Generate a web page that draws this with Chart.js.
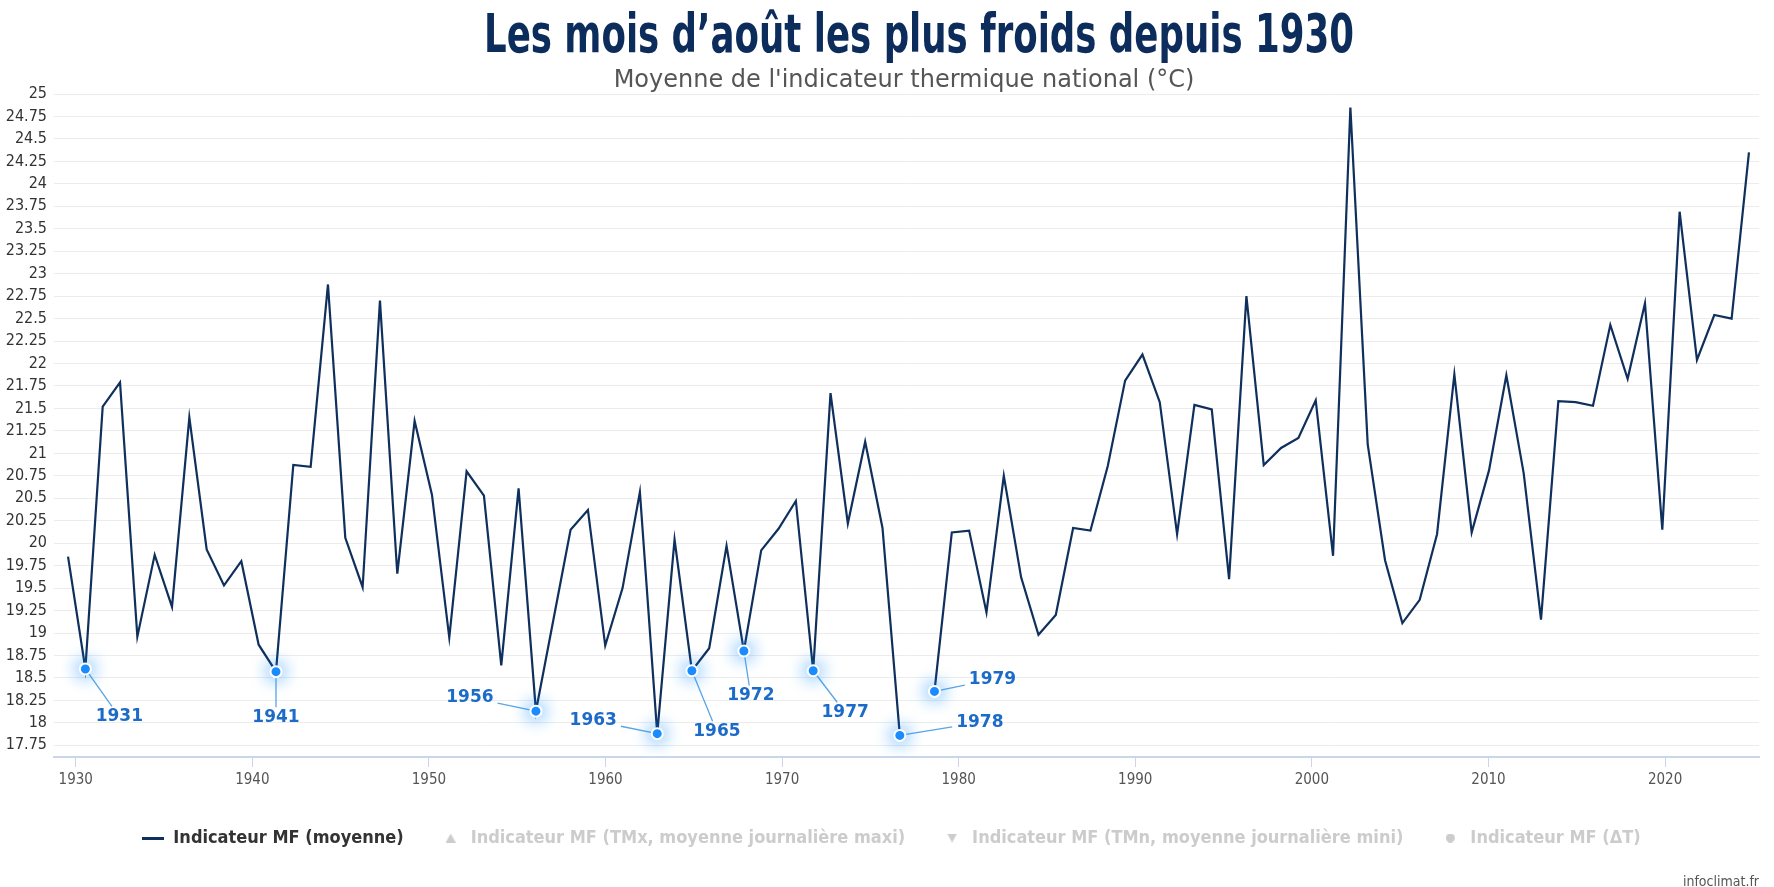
<!DOCTYPE html>
<html lang="fr">
<head>
<meta charset="utf-8">
<title>Les mois d’août les plus froids depuis 1930</title>
<script src="https://cdn.jsdelivr.net/npm/chart.js@4.4.1/dist/chart.umd.min.js"></script>
<style>
  html, body { margin: 0; padding: 0; background: #fff; }
  #wrap { width: 1774px; height: 887px; position: relative; }
</style>
</head>
<body>
<div id="wrap"><canvas id="chart"></canvas></div>
<script>
const TITLE = 'Les mois d’août les plus froids depuis 1930';
const SUBTITLE = "Moyenne de l'indicateur thermique national (°C)";
const CREDIT = 'infoclimat.fr';

// August mean of the national thermal indicator (°C), one value per point in
// plotting order from 1930 on. null = no value, the line breaks there.
const augustMean = [
  19.85, 18.60, 21.52, 21.79, 18.96, 19.87, 19.29, 21.40, 19.93, 19.53,
  19.80, 18.87, 18.57, 20.87, 20.85, 22.88, 20.06, 19.51, 22.70, 19.66,
  21.36, 20.54, 18.95, 20.80, 20.53, 18.64, 20.61, 18.13, 19.14, 20.15,
  20.37, 18.86, 19.50, 20.57, 17.88, 20.04, 18.58, 18.83, 19.97, 18.80,
  19.92, 20.16, 20.47, 18.58, 21.67, 20.22, 21.13, 20.17, 17.86, null,
  18.35, 20.12, 20.14, 19.23, 20.75, 19.62, 18.98, 19.20, 20.17, 20.14,
  20.86, 21.81, 22.10, 21.57, 20.10, 21.54, 21.49, 19.60, 22.75, 20.87,
  21.06, 21.17, 21.59, 19.86, 24.85, 21.10, 19.81, 19.11, 19.37, 20.10,
  21.88, 20.12, 20.81, 21.87, 20.78, 19.15, 21.58, 21.57, 21.53, 22.43,
  21.83, 22.67, 20.15, 23.69, 22.04, 22.54, 22.50, 24.35,
];

// Coldest Augusts picked out on the chart: label and position in augustMean.
const coldLabels = ['1931', '1941', '1956', '1963', '1965', '1972', '1977', '1978', '1979'];
const coldPoints = [1, 12, 27, 34, 36, 39, 43, 48, 50];

const legendNames = [
  'Indicateur MF (moyenne)',
  'Indicateur MF (TMx, moyenne journalière maxi)',
  'Indicateur MF (TMn, moyenne journalière mini)',
  'Indicateur MF (ΔT)',
];

// axis ranges
const tempRange = { min: 17.62, max: 25, step: 0.25 };
const yearRange = { min: 1928.77, max: 2025.32, step: 10 };
const pointRange = { min: -0.81, max: 97.58 };

// where each cold-year label sits relative to its marker (px)
const labelOffsets = [
  [34, 48], [0, 46], [-66, -14], [-64, -13], [25, 61],
  [7, 45], [32, 42], [80, -13], [58, -12],
];

const NAVY = '#0f2f5c';
const GRID_COLOR = '#ececec';
const AXIS_COLOR = '#ccd6eb';
const HIDDEN_COLOR = '#cccccc';
const MARK_BLUE = '#1a8cff';
const LABEL_BLUE = '#1c6bc9';
const LEADER_BLUE = '#5aa5e6';
const COND = '"DejaVu Sans Condensed", "DejaVu Sans", sans-serif';

const MARKER_DS = 4;
const LEGEND_SHIFT = 12;

// small canvases used as legend symbols
function symbol(w, h, draw) {
  const c = document.createElement('canvas');
  c.width = w; c.height = h;
  draw(c.getContext('2d'), w, h);
  return c;
}
const legendSymbols = [
  symbol(22, 3, (g, w, h) => { g.fillStyle = NAVY; g.fillRect(0, 0, w, h); }),
  symbol(10, 9, (g, w, h) => {
    g.fillStyle = HIDDEN_COLOR; g.beginPath();
    g.moveTo(w / 2, 0); g.lineTo(w, h); g.lineTo(0, h); g.closePath(); g.fill();
  }),
  symbol(10, 9, (g, w, h) => {
    g.fillStyle = HIDDEN_COLOR; g.beginPath();
    g.moveTo(0, 0); g.lineTo(w, 0); g.lineTo(w / 2, h); g.closePath(); g.fill();
  }),
  symbol(9, 9, (g, w, h) => {
    g.fillStyle = HIDDEN_COLOR; g.beginPath();
    g.arc(w / 2, h / 2, w / 2, 0, Math.PI * 2); g.fill();
  }),
];

// the legend row sits a little right of the canvas centre in the original
const legendShift = {
  id: 'legendShift',
  afterLayout(chart) {
    if (!chart.legend) return;
    chart.legend.left += LEGEND_SHIFT;
    chart.legend.right += LEGEND_SHIFT;
  },
};

// soft blue halo round the cold-year markers
const markerGlow = {
  id: 'markerGlow',
  beforeDatasetDraw(chart, args) {
    if (args.index !== MARKER_DS) return;
    const ctx = chart.ctx;
    ctx.save();
    ctx.shadowColor = 'rgba(20, 140, 255, 1)';
    ctx.shadowBlur = 18;
  },
  afterDatasetDraw(chart, args) {
    if (args.index !== MARKER_DS) return;
    chart.ctx.restore();
  },
};

function labelBoxes(chart) {
  const ctx = chart.ctx;
  const meta = chart.getDatasetMeta(MARKER_DS);
  ctx.font = 'bold 17px "DejaVu Sans", sans-serif';
  return meta.data.map((pt, i) => {
    const [dx, dy] = labelOffsets[i];
    const w = ctx.measureText(coldLabels[i]).width;
    return { px: pt.x, py: pt.y, cx: pt.x + dx, cy: pt.y + dy, w, h: 13, text: coldLabels[i] };
  });
}

// leader lines go under the series, labels on top of everything
const coldAnnotations = {
  id: 'coldAnnotations',
  beforeDatasetsDraw(chart) {
    const ctx = chart.ctx;
    const boxes = labelBoxes(chart);
    ctx.save();
    ctx.strokeStyle = LEADER_BLUE;
    ctx.lineWidth = 1.3;
    boxes.forEach(b => {
      const vx = b.px - b.cx, vy = b.py - b.cy;
      const hw = b.w / 2 + 4, hh = b.h / 2 + 4;
      const s = Math.min(vx ? hw / Math.abs(vx) : Infinity, vy ? hh / Math.abs(vy) : Infinity);
      ctx.beginPath();
      ctx.moveTo(b.px, b.py);
      ctx.lineTo(b.cx + vx * s, b.cy + vy * s);
      ctx.stroke();
    });
    ctx.restore();
  },
  afterDatasetsDraw(chart) {
    const ctx = chart.ctx;
    const boxes = labelBoxes(chart);
    ctx.save();
    ctx.fillStyle = LABEL_BLUE;
    ctx.textAlign = 'center';
    ctx.textBaseline = 'middle';
    boxes.forEach(b => ctx.fillText(b.text, b.cx, b.cy));
    ctx.restore();
  },
};

// title, subtitle and source credit
const header = {
  id: 'header',
  beforeDraw(chart) {
    const ctx = chart.ctx;
    ctx.save();
    ctx.fillStyle = '#ffffff';
    ctx.fillRect(0, 0, chart.width, chart.height);
    ctx.restore();
  },
  afterDraw(chart) {
    const ctx = chart.ctx;
    ctx.save();
    ctx.font = 'bold 54px "Liberation Sans Narrow", "DejaVu Sans Condensed", sans-serif';
    ctx.fillStyle = '#0c2c5c';
    ctx.textAlign = 'center';
    ctx.textBaseline = 'alphabetic';
    const sx = Math.min(1, 870 / ctx.measureText(TITLE).width);
    ctx.translate(919, 52);
    ctx.scale(sx, 1);
    ctx.fillText(TITLE, 0, 0);
    ctx.restore();

    ctx.save();
    ctx.font = '24px "DejaVu Sans", sans-serif';
    ctx.fillStyle = '#555555';
    ctx.textAlign = 'center';
    ctx.fillText(SUBTITLE, 904, 81);
    ctx.font = '14px ' + COND;
    ctx.textAlign = 'right';
    ctx.fillText(CREDIT, 1759, 882);
    ctx.restore();
  },
};

const hiddenRotation = [0, 0, 0, 0];

const chart = new Chart(document.getElementById('chart'), {
  type: 'line',
  data: {
    datasets: [
      {
        label: legendNames[0],
        data: augustMean.map((v, i) => ({ x: i, y: v })),
        borderColor: NAVY,
        backgroundColor: NAVY,
        borderWidth: 2.2,
        pointRadius: 0,
        tension: 0,
        spanGaps: false,
        xAxisID: 'x',
        order: 2,
      },
      ...legendNames.slice(1).map(name => ({
        label: name,
        data: [],
        hidden: true,
        xAxisID: 'x',
      })),
      {
        label: 'coldMarkers',
        data: coldPoints.map(i => ({ x: i, y: augustMean[i] })),
        showLine: false,
        pointRadius: 5.5,
        pointBackgroundColor: MARK_BLUE,
        pointBorderColor: '#ffffff',
        pointBorderWidth: 2,
        xAxisID: 'x',
        order: 0,
      },
    ],
  },
  options: {
    responsive: true,
    maintainAspectRatio: false,
    animation: false,
    layout: { padding: { top: 94, left: 0, right: 15, bottom: 30 } },
    scales: {
      x: { type: 'linear', display: false, min: pointRange.min, max: pointRange.max },
      year: {
        type: 'linear',
        axis: 'x',
        position: 'bottom',
        min: yearRange.min,
        max: yearRange.max,
        border: { color: AXIS_COLOR, width: 2 },
        grid: { drawOnChartArea: false, color: AXIS_COLOR, tickLength: 10 },
        ticks: {
          stepSize: yearRange.step,
          includeBounds: false,
          padding: 4,
          maxRotation: 0,
          autoSkip: false,
          color: '#555555',
          font: { family: COND, size: 15 },
          callback: v => String(v),
        },
      },
      y: {
        min: tempRange.min,
        max: tempRange.max,
        afterFit(scale) { scale.width = 54; },
        border: { display: false },
        grid: { color: GRID_COLOR, drawTicks: false },
        ticks: {
          stepSize: tempRange.step,
          includeBounds: false,
          padding: 7,
          color: '#333333',
          font: { family: COND, size: 16 },
          callback: v => String(+v.toFixed(2)),
        },
      },
    },
    plugins: {
      title: { display: false },
      tooltip: { enabled: false },
      legend: {
        position: 'bottom',
        labels: {
          usePointStyle: true,
          boxHeight: 10,
          pointStyleWidth: 22,
          padding: 36,
          font: { family: COND, size: 18, weight: 'bold' },
          generateLabels(ch) {
            return ch.data.datasets.slice(0, 4).map((ds, i) => ({
              text: ds.label,
              fillStyle: i === 0 ? NAVY : HIDDEN_COLOR,
              strokeStyle: i === 0 ? NAVY : HIDDEN_COLOR,
              lineWidth: 0,
              pointStyle: legendSymbols[i],
              rotation: hiddenRotation[i],
              fontColor: i === 0 ? '#333333' : HIDDEN_COLOR,
              hidden: false,
              datasetIndex: i,
            }));
          },
        },
      },
    },
  },
  plugins: [header, legendShift, markerGlow, coldAnnotations],
});
</script>
</body>
</html>
